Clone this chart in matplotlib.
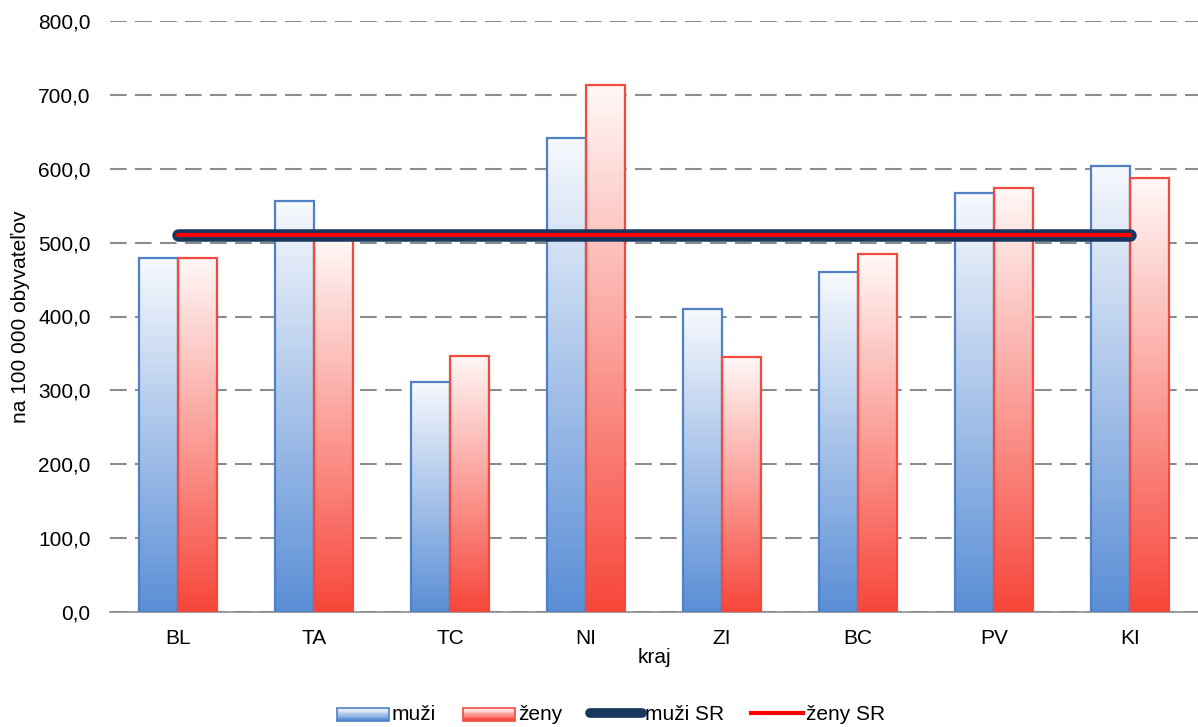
import numpy as np
import matplotlib.pyplot as plt
from matplotlib.colors import LinearSegmentedColormap
from matplotlib.patches import Rectangle
from matplotlib.lines import Line2D
from matplotlib.legend_handler import HandlerBase
from matplotlib.ticker import FuncFormatter

plt.rcParams['font.family'] = ['Liberation Sans', 'DejaVu Sans']

# data
kraje = ['BL', 'TA', 'TC', 'NI', 'ZI', 'BC', 'PV', 'KI']
muzi = [479, 557, 312, 641, 410, 460, 567, 604]
zeny = [479, 505, 347, 713, 345, 484, 574, 587]
muzi_sr = 510
zeny_sr = 510

blue_cmap = LinearSegmentedColormap.from_list('b', ['#5a8ed6', '#f7f9fd'])
red_cmap = LinearSegmentedColormap.from_list('r', ['#f7463a', '#fff8f7'])
blue_edge = '#4f81c4'
red_edge = '#f24a3e'
fs = 15

fig = plt.figure(figsize=(11.98, 7.27), dpi=100)
ax = fig.add_axes([110 / 1198, 115 / 727, 1088 / 1198, 591 / 727])

x = np.arange(len(kraje))
bw = 0.29
grad = np.linspace(0, 1, 256).reshape(-1, 1)

for xi, (m, z) in enumerate(zip(muzi, zeny)):
    for off, val, cmap, ec in [(-bw / 2, m, blue_cmap, blue_edge), (bw / 2, z, red_cmap, red_edge)]:
        x0 = xi + off - bw / 2
        ax.imshow(grad, cmap=cmap, origin='lower', aspect='auto',
                  extent=[x0, x0 + bw, 0, val], zorder=2, interpolation='bilinear')
        ax.add_patch(Rectangle((x0, 0), bw, val, fill=False, edgecolor=ec, lw=1.6, zorder=3))

ax.plot([x[0], x[-1]], [muzi_sr, muzi_sr], color='#17375e', lw=9, solid_capstyle='round', zorder=4)
ax.plot([x[0], x[-1]], [zeny_sr, zeny_sr], color='#ff0000', lw=3, solid_capstyle='round', zorder=5)

ax.set_xlim(-0.5, len(kraje) - 0.5)
ax.set_ylim(0, 800)
ax.set_yticks(np.arange(0, 801, 100))
ax.yaxis.set_major_formatter(FuncFormatter(lambda v, p: f'{v:.1f}'.replace('.', ',')))
ax.set_xticks(x)
ax.set_xticklabels(kraje)
ax.tick_params(axis='both', length=0, labelsize=fs, colors='#000000')
ax.tick_params(axis='x', pad=12)
ax.tick_params(axis='y', pad=14)
ax.yaxis.grid(True, color='#8c8c8c', lw=1.5, dashes=(8, 4))
ax.set_axisbelow(True)
for s in ['top', 'right', 'left']:
    ax.spines[s].set_visible(False)
ax.spines['bottom'].set_color('#8c8c8c')
ax.spines['bottom'].set_linewidth(1.2)

ax.set_ylabel('na 100 000 obyvateľov', fontsize=fs, labelpad=6)
ax.set_xlabel('kraj', fontsize=fs, labelpad=0)


class GradHandler(HandlerBase):
    def __init__(self, cmap, ec):
        super().__init__()
        self.cmap = cmap
        self.ec = ec

    def create_artists(self, legend, orig, xd, yd, w, h, fsz, trans):
        arts = []
        n = 10
        for i in range(n):
            arts.append(Rectangle((xd, yd + h * i / n), w, h / n, facecolor=self.cmap(i / (n - 1)),
                                  edgecolor='none', transform=trans))
        arts.append(Rectangle((xd, yd), w, h, fill=False, edgecolor=self.ec, lw=1.2, transform=trans))
        return arts


h_m = Rectangle((0, 0), 1, 1)
h_z = Rectangle((0, 0), 1, 1)
h_msr = Line2D([], [], color='#17375e', lw=7, solid_capstyle='round')
h_zsr = Line2D([], [], color='#ff0000', lw=3)
fig.legend([h_m, h_z, h_msr, h_zsr], ['muži', 'ženy', 'muži SR', 'ženy SR'],
           handler_map={h_m: GradHandler(blue_cmap, blue_edge), h_z: GradHandler(red_cmap, red_edge)},
           loc='center', bbox_to_anchor=(611 / 1198, 1 - 714 / 727), ncol=4, frameon=False,
           fontsize=fs, handlelength=2.5, handleheight=0.55, handletextpad=0.15, columnspacing=1.3,
           borderpad=0.1)

fig.savefig('out.png', dpi=100)
